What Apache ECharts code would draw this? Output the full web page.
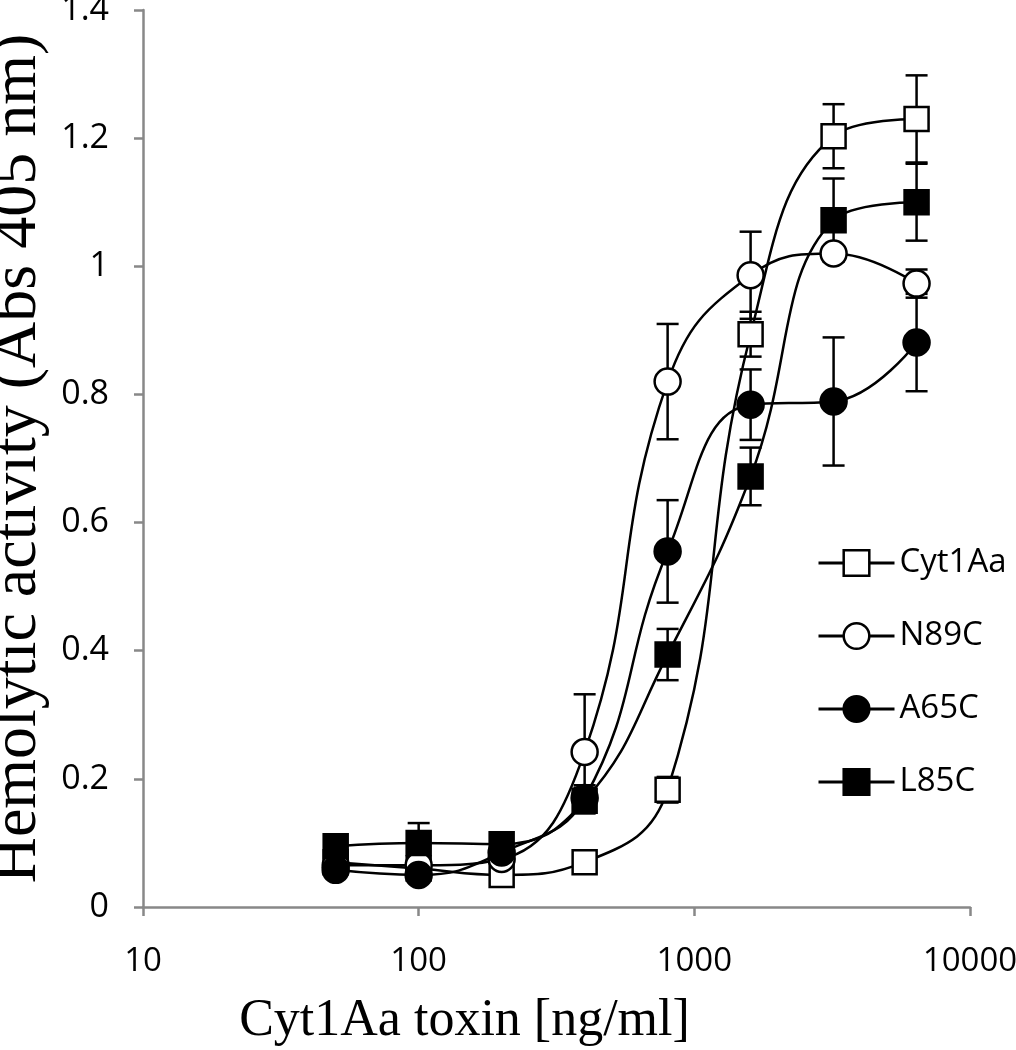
<!DOCTYPE html>
<html>
<head>
<meta charset="utf-8">
<script src="https://cdn.jsdelivr.net/npm/echarts@6/dist/echarts.min.js"></script>
<style>
html,body{margin:0;padding:0;background:#fff;}
#chart{width:1016px;height:1050px;}
</style>
</head>
<body>
<div id="chart"></div>
<script>
const concentrations = [50, 100, 200, 400, 800, 1600, 3200, 6400];
const xTickLabels = ['10', '100', '1000', '10000'];
const seriesNames = ['Cyt1Aa', 'N89C', 'A65C', 'L85C'];

const cyt1aaValues = [0.070, 0.060, 0.050, 0.070, 0.183, 0.894, 1.203, 1.230];
const cyt1aaErrors = [0.010, 0.010, 0.010, 0.010, 0.020, 0.035, 0.050, 0.068];

const n89cValues = [0.065, 0.065, 0.075, 0.242, 0.820, 0.986, 1.020, 0.973];
const n89cErrors = [0.010, 0.010, 0.010, 0.090, 0.090, 0.068, 0.010, 0.022];

const a65cValues = [0.058, 0.050, 0.085, 0.170, 0.555, 0.784, 0.789, 0.881];
const a65cErrors = [0.010, 0.010, 0.010, 0.020, 0.080, 0.055, 0.100, 0.076];

const l85cValues = [0.095, 0.100, 0.098, 0.166, 0.394, 0.672, 1.072, 1.100];
const l85cErrors = [0.010, 0.031, 0.010, 0.020, 0.040, 0.045, 0.065, 0.060];

const styles = [
  {symbol: 'rect', size: 24, fill: '#ffffff'},
  {symbol: 'circle', size: 26, fill: '#ffffff'},
  {symbol: 'circle', size: 26, fill: '#000000'},
  {symbol: 'rect', size: 24, fill: '#000000'}
];
const allValues = [cyt1aaValues, n89cValues, a65cValues, l85cValues];
const allErrors = [cyt1aaErrors, n89cErrors, a65cErrors, l85cErrors];

function errorSeries(vals, errs) {
  return {
    type: 'custom',
    z: 1,
    silent: true,
    data: concentrations.map((c, i) => [c, vals[i], errs[i]]),
    encode: {x: 0, y: 1},
    renderItem: function (params, api) {
      const x = api.value(0), y = api.value(1), e = api.value(2);
      const hi = api.coord([x, y + e]);
      const lo = api.coord([x, y - e]);
      const w = 11;
      const st = {stroke: '#000', lineWidth: 2.5};
      return {
        type: 'group',
        children: [
          {type: 'line', shape: {x1: hi[0], y1: hi[1], x2: lo[0], y2: lo[1]}, style: st},
          {type: 'line', shape: {x1: hi[0] - w, y1: hi[1], x2: hi[0] + w, y2: hi[1]}, style: st},
          {type: 'line', shape: {x1: lo[0] - w, y1: lo[1], x2: lo[0] + w, y2: lo[1]}, style: st}
        ]
      };
    }
  };
}

const series = [];
seriesNames.forEach((name, k) => {
  series.push(errorSeries(allValues[k], allErrors[k]));
});
seriesNames.forEach((name, k) => {
  const s = styles[k];
  series.push({
    name: name,
    type: 'line',
    z: 3,
    smooth: 0.45,
    data: concentrations.map((c, i) => [c, allValues[k][i]]),
    symbol: s.symbol,
    symbolSize: s.size,
    showAllSymbol: true,
    lineStyle: {color: '#000', width: 2.5},
    itemStyle: {color: s.fill, borderColor: '#000', borderWidth: 2.5, opacity: 1},
    emphasis: {disabled: true}
  });
});

const chart = echarts.init(document.getElementById('chart'), null, {renderer: 'canvas'});
chart.setOption({
  animation: false,
  backgroundColor: '#ffffff',
  grid: {left: 143, right: 46, top: 10, bottom: 143, outerBoundsMode: 'none', containLabel: false},
  legend: {
    orient: 'vertical',
    left: 812,
    top: 540,
    itemWidth: 76,
    itemHeight: 32,
    itemGap: 37,
    data: seriesNames,
    lineStyle: {width: 3, color: '#000'},
    itemStyle: {borderWidth: 2.5, borderColor: '#000'},
    textStyle: {fontFamily: 'Open Sans', fontSize: 33, color: '#000', lineHeight: 36, padding: [0, 0, 0, 0]},
    selectedMode: false
  },
  xAxis: {
    type: 'log',
    logBase: 10,
    min: 10,
    max: 10000,
    name: 'Cyt1Aa toxin [ng/ml]',
    nameLocation: 'middle',
    nameGap: 88,
    nameTextStyle: {fontFamily: 'Liberation Serif', fontSize: 52, color: '#000', padding: [0, 184, 0, 0]},
    axisLine: {lineStyle: {color: '#888888', width: 2.5}},
    axisTick: {show: true, length: 9, lineStyle: {color: '#888888', width: 2.5}},
    minorTick: {show: false},
    splitLine: {show: false},
    axisLabel: {
      margin: 38,
      fontFamily: 'Open Sans',
      fontSize: 33,
      color: '#000',
      formatter: function (v) {
        const idx = Math.round(Math.log10(v)) - 1;
        return xTickLabels[idx] !== undefined ? xTickLabels[idx] : String(v);
      }
    }
  },
  yAxis: {
    type: 'value',
    min: 0,
    max: 1.4,
    interval: 0.2,
    name: 'Hemolytic activity (Abs 405 nm)',
    nameLocation: 'middle',
    nameGap: 84,
    nameTextStyle: {fontFamily: 'Liberation Serif', fontSize: 64, color: '#000'},
    axisLine: {show: true, lineStyle: {color: '#888888', width: 2.5}},
    axisTick: {show: true, length: 9, lineStyle: {color: '#888888', width: 2.5}},
    splitLine: {show: false},
    axisLabel: {margin: 34, fontFamily: 'Open Sans', fontSize: 34, color: '#000'}
  },
  series: series
});
</script>
</body>
</html>
